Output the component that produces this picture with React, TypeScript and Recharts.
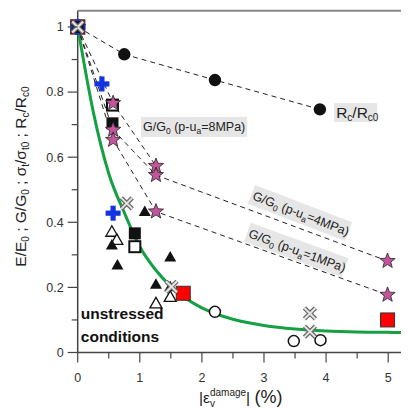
import React from "react";
import { ScatterChart, Scatter, XAxis, YAxis, ReferenceDot } from "recharts";

// ---- data ----
const rcData = [
  { x: 0, y: 1 },
  { x: 0.75, y: 0.916 },
  { x: 2.21, y: 0.837 },
  { x: 3.9, y: 0.747 },
];
const g8Data = [
  { x: 0, y: 1 },
  { x: 0.57, y: 0.766 },
  { x: 1.26, y: 0.573 },
];
const g4Data = [
  { x: 0, y: 1 },
  { x: 0.57, y: 0.684 },
  { x: 1.26, y: 0.545 },
  { x: 4.99, y: 0.281 },
];
const g1Data = [
  { x: 0, y: 1 },
  { x: 0.57, y: 0.653 },
  { x: 1.26, y: 0.433 },
  { x: 4.99, y: 0.177 },
];
const filledSquareData = [
  { x: 0, y: 1 },
  { x: 0.56, y: 0.704 },
  { x: 0.92, y: 0.366 },
];
const openSquareData = [
  { x: 0.56, y: 0.76 },
  { x: 0.92, y: 0.325 },
];
const bluePlusData = [
  { x: 0, y: 1 },
  { x: 0.39, y: 0.825 },
  { x: 0.57, y: 0.428 },
];
const openTriangleData = [
  { x: 0.55, y: 0.371 },
  { x: 0.63, y: 0.346 },
  { x: 1.26, y: 0.151 },
  { x: 1.49, y: 0.171 },
];
const filledTriangleData = [
  { x: 0.55, y: 0.33 },
  { x: 0.64, y: 0.269 },
  { x: 1.08, y: 0.433 },
  { x: 1.49, y: 0.293 },
  { x: 1.26, y: 0.21 },
  { x: 1.49, y: 0.202 },
];
const crossData = [
  { x: 0, y: 1 },
  { x: 0.79, y: 0.458 },
  { x: 1.51, y: 0.202 },
  { x: 3.74, y: 0.12 },
  { x: 3.74, y: 0.064 },
];
const redSquareData = [
  { x: 0, y: 1 },
  { x: 1.7, y: 0.182 },
  { x: 4.99, y: 0.1 },
];
const openCircleData = [
  { x: 2.21, y: 0.125 },
  { x: 3.48, y: 0.035 },
  { x: 3.91, y: 0.038 },
];
const originData = [{ x: 0, y: 1 }];
const greenCurve = [
  { x: 0, y: 1 },
  { x: 0.25, y: 0.74 },
  { x: 0.5, y: 0.55 },
  { x: 0.75, y: 0.43 },
  { x: 1.0, y: 0.325 },
  { x: 1.25, y: 0.255 },
  { x: 1.5, y: 0.203 },
  { x: 1.75, y: 0.165 },
  { x: 2.0, y: 0.137 },
  { x: 2.5, y: 0.102 },
  { x: 3.0, y: 0.083 },
  { x: 3.5, y: 0.072 },
  { x: 4.0, y: 0.066 },
  { x: 4.5, y: 0.063 },
  { x: 5.0, y: 0.062 },
  { x: 5.22, y: 0.061 },
];
const xTicks = [0, 0.5, 1, 1.5, 2, 2.5, 3, 3.5, 4, 4.5, 5];
const yTicks = [0, 0.1, 0.2, 0.3, 0.4, 0.5, 0.6, 0.7, 0.8, 0.9, 1];

const FONT = "'Liberation Sans', Arial, sans-serif";
const AXIS = "#444";
const TICKTXT = "#333";

// ---- marker shapes ----
const Nothing = () => <g />;
const Star = (p: any) => {
  const { cx, cy } = p;
  const pts: string[] = [];
  for (let i = 0; i < 10; i++) {
    const r = i % 2 === 0 ? 8 : 3.4;
    const a = -Math.PI / 2 + (i * Math.PI) / 5;
    pts.push(`${cx + r * Math.cos(a)},${cy + r * Math.sin(a)}`);
  }
  return <polygon points={pts.join(" ")} fill="#c4559c" stroke="#222" strokeWidth={0.8} />;
};
const BlackCircle = (p: any) => <circle cx={p.cx} cy={p.cy} r={6.2} fill="#111" />;
const OpenCircle = (p: any) => <circle cx={p.cx} cy={p.cy} r={5.5} fill="#fff" stroke="#111" strokeWidth={1.5} />;
const FilledSquare = (p: any) => <rect x={p.cx - 6} y={p.cy - 6} width={12} height={12} fill="#111" />;
const OpenSquare = (p: any) => <rect x={p.cx - 5.5} y={p.cy - 5.5} width={11} height={11} fill="#fff" stroke="#111" strokeWidth={2} />;
const RedSquare = (p: any) => <rect x={p.cx - 7} y={p.cy - 7} width={14} height={14} fill="#ff0000" stroke="#333" strokeWidth={1} />;
const OpenTri = (p: any) => (
  <polygon points={`${p.cx},${p.cy - 6} ${p.cx + 6},${p.cy + 4.5} ${p.cx - 6},${p.cy + 4.5}`} fill="#fff" stroke="#111" strokeWidth={1.3} />
);
const FilledTri = (p: any) => (
  <polygon points={`${p.cx},${p.cy - 6} ${p.cx + 6},${p.cy + 4.5} ${p.cx - 6},${p.cy + 4.5}`} fill="#111" />
);
const BluePlus = (p: any) => (
  <g fill="#1433e0">
    <rect x={p.cx - 7.5} y={p.cy - 2.6} width={15} height={5.2} />
    <rect x={p.cx - 2.6} y={p.cy - 7.5} width={5.2} height={15} />
  </g>
);
const Cross = (p: any) => {
  const s = 5.5;
  const d = `M${p.cx - s},${p.cy - s}L${p.cx + s},${p.cy + s}M${p.cx + s},${p.cy - s}L${p.cx - s},${p.cy + s}`;
  return (
    <g>
      <path d={d} stroke="#6a6a6a" strokeWidth={4.5} />
      <path d={d} stroke="#e4e4e4" strokeWidth={2} />
    </g>
  );
};
const OriginCluster = (p: any) => (
  <g>
    <RedSquare cx={p.cx} cy={p.cy} />
    <BluePlus cx={p.cx} cy={p.cy} />
    <FilledSquare cx={p.cx} cy={p.cy} />
    <Cross cx={p.cx} cy={p.cy} />
  </g>
);

// ---- axis ticks ----
const YTick = (p: any) => {
  const { x, y, payload } = p;
  const v = payload.value;
  const major = Math.abs(v * 5 - Math.round(v * 5)) < 1e-6;
  return (
    <g>
      <line x1={x} x2={x - (major ? 10 : 6)} y1={y} y2={y} stroke={AXIS} strokeWidth={1.2} />
      {major && (
        <text x={x - 14} y={y} dy="0.35em" textAnchor="end" fontSize={12.5} fill={TICKTXT} fontFamily={FONT}>
          {String(Math.round(v * 10) / 10)}
        </text>
      )}
    </g>
  );
};
const XTick = (p: any) => {
  const { x, y, payload } = p;
  const v = payload.value;
  const major = Math.abs(v - Math.round(v)) < 1e-6;
  return (
    <g>
      <line x1={x} x2={x} y1={y} y2={y + (major ? 10 : 6)} stroke={AXIS} strokeWidth={1.2} />
      {major && (
        <text x={x} y={y + 25} dy="0.35em" textAnchor="middle" fontSize={12.5} fill={TICKTXT} fontFamily={FONT}>
          {String(v)}
        </text>
      )}
    </g>
  );
};

// ---- annotations ----
const RcLabel = (p: any) => (
  <g>
    <rect x={p.cx} y={p.cy - 9.5} width={43} height={19} fill="#e6e6e6" />
    <text x={p.cx + 2} y={p.cy + 5} fontSize={15.5} fill="#222" fontFamily={FONT}>
      R<tspan fontSize={10} dy={3}>c</tspan>
      <tspan dy={-3}>/R</tspan>
      <tspan fontSize={10} dy={3}>c0</tspan>
    </text>
  </g>
);
const gText = (mpa: string) => (
  <>
    G/G<tspan fontSize={8.5} dy={3}>0</tspan>
    <tspan dy={-3}> (p-u</tspan>
    <tspan fontSize={8.5} dy={3}>a</tspan>
    <tspan dy={-3}>={mpa})</tspan>
  </>
);
const G8Label = (p: any) => (
  <g>
    <rect x={p.cx} y={p.cy - 10} width={106} height={20} fill="#e6e6e6" />
    <text x={p.cx + 2} y={p.cy + 4.5} fontSize={12.5} fill="#222" fontFamily={FONT}>
      {gText("8MPa")}
    </text>
  </g>
);
const makeRotLabel = (mpa: string, angle: number) => (p: any) => (
  <g transform={`translate(${p.cx},${p.cy}) rotate(${angle})`}>
    <rect x={-52} y={-10} width={104} height={20} fill="#e6e6e6" />
    <text x={-50} y={4.5} fontSize={12.5} fill="#222" fontFamily={FONT}>
      {gText(mpa)}
    </text>
  </g>
);
const G4Label = makeRotLabel("4MPa", 21);
const G1Label = makeRotLabel("1MPa", 20);
const Unstressed = (p: any) => (
  <text x={p.cx} y={p.cy} fontSize={15.5} fontWeight="bold" fill="#111" fontFamily={FONT}>
    <tspan x={p.cx} dy="0.35em">unstressed</tspan>
    <tspan x={p.cx} dy={23}>conditions</tspan>
  </text>
);
const TopLine = (p: any) => <line x1={p.cx} x2={p.cx + 335} y1={p.cy} y2={p.cy} stroke="#888" strokeWidth={2} />;

const YTitle = (p: any) => {
  const vb = p.viewBox || {};
  const cx = 12;
  const cy = (vb.y || 0) + (vb.height || 0) / 2 - 5;
  return (
    <text transform={`translate(${cx + 6},${cy}) rotate(-90)`} textAnchor="middle" fontSize={15.5} fill="#222" fontFamily={FONT}>
      E/E<tspan fontSize={10} dy={3}>0</tspan>
      <tspan dy={-3}> ; G/G</tspan>
      <tspan fontSize={10} dy={3}>0</tspan>
      <tspan dy={-3}> ; σ</tspan>
      <tspan fontSize={10} dy={3}>t</tspan>
      <tspan dy={-3}>/σ</tspan>
      <tspan fontSize={10} dy={3}>t0</tspan>
      <tspan dy={-3}> ; R</tspan>
      <tspan fontSize={10} dy={3}>c</tspan>
      <tspan dy={-3}>/R</tspan>
      <tspan fontSize={10} dy={3}>c0</tspan>
    </text>
  );
};
const XTitle = (p: any) => {
  const vb = p.viewBox || {};
  const cx = (vb.x || 0) + (vb.width || 0) / 2 + 0;
  const y = (vb.y || 0) + 50;
  return (
    <text x={cx} y={y} textAnchor="middle" fontSize={15.5} fill="#222" fontFamily={FONT}>
      |ε<tspan fontSize={10} dy={4}>v</tspan>
      <tspan fontSize={10} dy={-11} dx={-5}>damage</tspan>
      <tspan dy={7}>| </tspan>
      <tspan fontSize={18}>(%)</tspan>
    </text>
  );
};

const dash = { stroke: "#222", strokeWidth: 1, strokeDasharray: "5 4" };

export default function App() {
  return (
    <ScatterChart width={401} height={401} margin={{ top: 2.7, right: 5.3, bottom: 0, left: 0 }}>
      <XAxis
        type="number"
        dataKey="x"
        domain={[0, 5.25]}
        ticks={xTicks}
        interval={0}
        tickSize={0}
        tickMargin={0}
        tick={<XTick />}
        height={56.5}
        axisLine={{ stroke: AXIS, strokeWidth: 1.5 }}
        tickLine={false}
        label={<XTitle />}
      />
      <YAxis
        type="number"
        dataKey="y"
        domain={[0, 1.05]}
        ticks={yTicks}
        interval={0}
        tickSize={0}
        tickMargin={0}
        tick={<YTick />}
        width={69.7}
        axisLine={{ stroke: AXIS, strokeWidth: 1.5 }}
        tickLine={false}
        label={<YTitle />}
      />
      <ReferenceDot x={0} y={1.05} ifOverflow="visible" shape={TopLine} />

      <Scatter data={greenCurve} line={{ stroke: "#14a043", strokeWidth: 3 }} lineJointType="monotoneX" shape={<Nothing />} isAnimationActive={false} />
      <Scatter data={rcData} line={dash} shape={BlackCircle} isAnimationActive={false} />
      <Scatter data={g8Data} line={dash} shape={<Nothing />} isAnimationActive={false} />
      <Scatter data={g4Data} line={dash} shape={<Nothing />} isAnimationActive={false} />
      <Scatter data={g1Data} line={dash} shape={<Nothing />} isAnimationActive={false} />
      <Scatter data={openTriangleData} shape={OpenTri} isAnimationActive={false} />
      <Scatter data={filledTriangleData} shape={FilledTri} isAnimationActive={false} />
      <Scatter data={openSquareData} shape={OpenSquare} isAnimationActive={false} />
      <Scatter data={filledSquareData} shape={FilledSquare} isAnimationActive={false} />
      <Scatter data={g8Data} shape={Star} isAnimationActive={false} />
      <Scatter data={g4Data} shape={Star} isAnimationActive={false} />
      <Scatter data={g1Data} shape={Star} isAnimationActive={false} />
      <Scatter data={openCircleData} shape={OpenCircle} isAnimationActive={false} />
      <Scatter data={redSquareData} shape={RedSquare} isAnimationActive={false} />
      <Scatter data={bluePlusData} shape={BluePlus} isAnimationActive={false} />
      <Scatter data={crossData} shape={Cross} isAnimationActive={false} />
      <Scatter data={originData} shape={OriginCluster} isAnimationActive={false} />

      <ReferenceDot x={4.13} y={0.737} ifOverflow="visible" shape={RcLabel} />
      <ReferenceDot x={1.02} y={0.693} ifOverflow="visible" shape={G8Label} />
      <ReferenceDot x={3.58} y={0.4286} ifOverflow="visible" shape={G4Label} />
      <ReferenceDot x={3.52} y={0.315} ifOverflow="visible" shape={G1Label} />
      <ReferenceDot x={0.05} y={0.121} ifOverflow="visible" shape={Unstressed} />
    </ScatterChart>
  );
}
